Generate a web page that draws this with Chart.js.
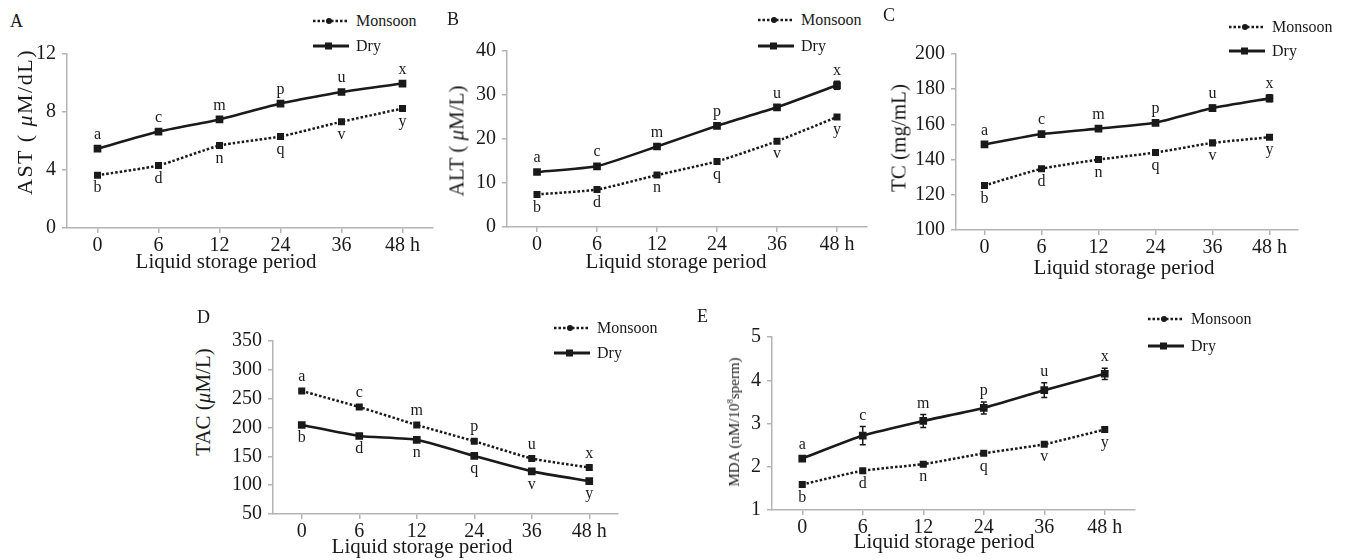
<!DOCTYPE html>
<html>
<head>
<meta charset="utf-8">
<script src="https://cdn.jsdelivr.net/npm/chart.js@4/dist/chart.umd.min.js"></script>
<style>
  body { margin: 0; width: 1346px; height: 560px; background: #fff; position: relative; overflow: hidden;
         font-family: "Liberation Serif", "DejaVu Serif", serif; color: #1a1a1a; }
  canvas { position: absolute; }
  .tag { position: absolute; font-family: "Liberation Serif", serif; font-size: 18px; line-height: 18px; color: #1a1a1a; }
  .ytitle { position: absolute; transform: translate(-50%, -50%) rotate(-90deg); white-space: nowrap;
            font-family: "Liberation Serif", serif; font-size: 21px; line-height: 1; color: #1a1a1a; }
  .xtitle { position: absolute; transform: translate(-50%, -50%); white-space: nowrap;
            font-family: "Liberation Serif", serif; font-size: 21px; line-height: 1; color: #1a1a1a; }
  .leg { position: absolute; display: flex; align-items: center; height: 20px; white-space: nowrap;
         font-family: "Liberation Serif", serif; font-size: 16px; color: #1a1a1a; }
  .leg svg { margin-right: 6px; flex-shrink: 0; }
  sup { font-size: 9px; }
</style>
</head>
<body>
<script>
// storage period (h) and significance letters
const periods = ['0', '6', '12', '24', '36', '48 h'];
const upperLetters = ['a', 'c', 'm', 'p', 'u', 'x'];
const lowerLetters = ['b', 'd', 'n', 'q', 'v', 'y'];

// A - AST
const astMonsoon = [3.64, 4.31, 5.69, 6.31, 7.33, 8.24];
const astDry = [5.47, 6.65, 7.49, 8.58, 9.38, 9.96];
const astErrMonsoon = [0.08, 0.08, 0.08, 0.08, 0.08, 0.1];
const astErrDry = [0.1, 0.08, 0.08, 0.08, 0.1, 0.12];

// B - ALT
const altMonsoon = [7.4, 8.5, 11.8, 14.9, 19.5, 25.0];
const altDry = [12.5, 13.8, 18.3, 23.0, 27.2, 32.2];
const altErrMonsoon = [0.3, 0.3, 0.3, 0.3, 0.4, 0.5];
const altErrDry = [0.3, 0.3, 0.3, 0.3, 0.4, 0.9];

// C - TC
const tcMonsoon = [125.3, 134.8, 140.0, 144.0, 149.5, 152.7];
const tcDry = [148.6, 154.5, 157.6, 160.9, 169.3, 174.8];
const tcErrMonsoon = [1.2, 1.0, 1.0, 1.0, 1.0, 1.0];
const tcErrDry = [1.2, 1.0, 1.0, 1.0, 1.6, 2.0];

// D - TAC
const tacMonsoon = [263.4, 235.6, 204.3, 176.3, 146.2, 130.6];
const tacDry = [204.3, 185.3, 178.6, 150.7, 123.9, 107.1];
const tacErrMonsoon = [2, 2, 2, 2, 2, 2];
const tacErrDry = [2, 2, 2, 2, 2, 2];

// E - MDA
const mdaMonsoon = [1.59, 1.91, 2.06, 2.31, 2.52, 2.86];
const mdaDry = [2.19, 2.72, 3.06, 3.36, 3.77, 4.15];
const mdaErrMonsoon = [0.05, 0.04, 0.03, 0.03, 0.04, 0.05];
const mdaErrDry = [0.03, 0.21, 0.15, 0.14, 0.17, 0.13];

const AXIS = '#b4b4b4';
const INK = '#1a1a1a';
const YW = 50, XH = 30, PT = 12, PR = 12;

const panels = [
  { tag: 'A', monsoon: astMonsoon, dry: astDry, errM: astErrMonsoon, errD: astErrDry, min: 0, max: 12, step: 4,
    box: { l: 67, t: 48, r: 433, b: 228 }, tagPos: [10, 12], ytitle: 'AST ( <i>μ</i>M/dL)', ytPos: [25, 122],
    ytSize: 22, ytSpacing: 1.5, xtPos: [226, 261], legPos: [312, 21, 46] },
  { tag: 'B', monsoon: altMonsoon, dry: altDry, errM: altErrMonsoon, errD: altErrDry, min: 0, max: 40, step: 10,
    box: { l: 507, t: 45, r: 867, b: 227 }, tagPos: [447, 10], ytitle: 'ALT ( <i>μ</i>M/L)', ytPos: [457, 141],
    xtPos: [676, 261], legPos: [757, 20, 46] },
  { tag: 'C', monsoon: tcMonsoon, dry: tcDry, errM: tcErrMonsoon, errD: tcErrDry, min: 100, max: 200, step: 20,
    box: { l: 956, t: 48, r: 1298, b: 230 }, tagPos: [883, 6], ytitle: 'TC (mg/mL)', ytPos: [899, 138],
    xtPos: [1124, 267], legPos: [1228, 27, 51] },
  { tag: 'D', monsoon: tacMonsoon, dry: tacDry, errM: tacErrMonsoon, errD: tacErrDry, min: 50, max: 350, step: 50,
    box: { l: 273, t: 335, r: 618, b: 514 }, tagPos: [197, 308], ytitle: 'TAC (<i>μ</i>M/L)', ytPos: [203, 402],
    xtPos: [422, 546], legPos: [553, 328, 353] },
  { tag: 'E', monsoon: mdaMonsoon, dry: mdaDry, errM: mdaErrMonsoon, errD: mdaErrDry, min: 1, max: 5, step: 1,
    box: { l: 772, t: 331, r: 1135, b: 510 }, tagPos: [697, 307], ytitle: 'MDA (nM/10<sup>8</sup>sperm)', ytPos: [734, 422],
    ytSize: 15, xtPos: [944, 541], legPos: [1147, 319, 346] },
];

// error bars + significance letters drawn on top of the lines
const annotate = {
  id: 'annotate',
  afterDatasetsDraw(chart) {
    const ctx = chart.ctx;
    const y = chart.scales.y;
    const errs = chart.options.plugins.annotate;
    const errPx = [[], []];
    ctx.save();
    ctx.strokeStyle = INK;
    ctx.lineWidth = 1.5;
    [[0, errs.errM], [1, errs.errD]].forEach(([di, err]) => {
      const vals = chart.data.datasets[di].data;
      chart.getDatasetMeta(di).data.forEach((pt, i) => {
        const y1 = y.getPixelForValue(vals[i] - err[i]);
        const y2 = y.getPixelForValue(vals[i] + err[i]);
        errPx[di][i] = Math.abs(y1 - y2) / 2;
        ctx.beginPath();
        ctx.moveTo(pt.x, y1); ctx.lineTo(pt.x, y2);
        ctx.moveTo(pt.x - 3, y1); ctx.lineTo(pt.x + 3, y1);
        ctx.moveTo(pt.x - 3, y2); ctx.lineTo(pt.x + 3, y2);
        ctx.stroke();
      });
    });
    ctx.fillStyle = INK;
    ctx.font = '16px "Liberation Serif", serif';
    ctx.textAlign = 'center';
    ctx.textBaseline = 'middle';
    const mon = chart.getDatasetMeta(0).data;
    const dry = chart.getDatasetMeta(1).data;
    mon.forEach((pm, i) => {
      const pd = dry[i];
      const monUp = pm.y < pd.y;
      const hi = monUp ? pm : pd;
      const lo = monUp ? pd : pm;
      const hiErr = errPx[monUp ? 0 : 1][i];
      const loErr = errPx[monUp ? 1 : 0][i];
      ctx.fillText(upperLetters[i], hi.x, hi.y - Math.max(14, hiErr + 11));
      ctx.fillText(lowerLetters[i], lo.x, lo.y + Math.max(13, loErr + 10));
    });
    ctx.restore();
  }
};

function addText(cls, html, x, y, size, spacing) {
  const el = document.createElement('div');
  el.className = cls;
  el.innerHTML = html;
  el.style.left = x + 'px';
  el.style.top = y + 'px';
  if (size) el.style.fontSize = size + 'px';
  if (spacing) el.style.letterSpacing = spacing + 'px';
  document.body.appendChild(el);
}

function addLegend(x, yMon, yDry) {
  const mon = '<svg width="38" height="10"><line x1="1" y1="5" x2="37" y2="5" stroke="' + INK + '" stroke-width="2.5" stroke-dasharray="2.5 2"/>'
    + '<circle cx="17" cy="5" r="3" fill="' + INK + '"/></svg>';
  const dry = '<svg width="38" height="10"><line x1="1" y1="5" x2="37" y2="5" stroke="' + INK + '" stroke-width="3"/>'
    + '<rect x="13" y="1.5" width="7" height="7" fill="' + INK + '"/></svg>';
  addText('leg', mon + '<span>Monsoon</span>', x, yMon - 10);
  addText('leg', dry + '<span>Dry</span>', x, yDry - 10);
}

panels.forEach((p) => {
  const cv = document.createElement('canvas');
  const w = p.box.r - p.box.l + YW + PR;
  const h = p.box.b - p.box.t + PT + XH;
  cv.width = w; cv.height = h;
  cv.style.left = (p.box.l - YW) + 'px';
  cv.style.top = (p.box.t - PT) + 'px';
  document.body.appendChild(cv);

  addText('tag', p.tag, p.tagPos[0], p.tagPos[1]);
  addText('ytitle', p.ytitle, p.ytPos[0], p.ytPos[1], p.ytSize, p.ytSpacing);
  addText('xtitle', 'Liquid storage period', p.xtPos[0], p.xtPos[1]);
  addLegend(p.legPos[0], p.legPos[1], p.legPos[2]);

  const tickFont = { family: '"Liberation Serif", serif', size: 20 };

  new Chart(cv.getContext('2d'), {
    type: 'line',
    data: {
      labels: periods,
      datasets: [
        {
          label: 'Monsoon',
          data: p.monsoon,
          borderColor: INK,
          backgroundColor: INK,
          borderWidth: 2.5,
          borderDash: [2.5, 2],
          pointStyle: 'rect',
          pointRadius: 3.2,
          tension: 0.15,
          fill: false,
        },
        {
          label: 'Dry',
          data: p.dry,
          borderColor: INK,
          backgroundColor: INK,
          borderWidth: 2.6,
          pointStyle: 'rect',
          pointRadius: 3.6,
          tension: 0.15,
          fill: false,
        },
      ],
    },
    options: {
      responsive: false,
      animation: false,
      events: [],
      layout: { padding: { left: 0, top: PT, right: PR, bottom: 0 } },
      plugins: {
        legend: { display: false },
        tooltip: { enabled: false },
        annotate: { errM: p.errM, errD: p.errD },
      },
      scales: {
        x: {
          offset: true,
          grid: { display: true, drawOnChartArea: false, tickLength: 5, color: AXIS, lineWidth: 1.5 },
          border: { color: AXIS, width: 1.5 },
          ticks: { font: tickFont, color: INK, padding: 1, maxRotation: 0, autoSkip: false },
          afterFit: (s) => { s.height = XH; },
        },
        y: {
          min: p.min,
          max: p.max,
          grid: { display: true, drawOnChartArea: false, tickLength: 5, color: AXIS, lineWidth: 1.5 },
          border: { color: AXIS, width: 1.5 },
          ticks: { stepSize: p.step, font: tickFont, color: INK, padding: 6 },
          afterFit: (s) => { s.width = YW; },
        },
      },
    },
    plugins: [annotate],
  });
});
</script>
</body>
</html>
